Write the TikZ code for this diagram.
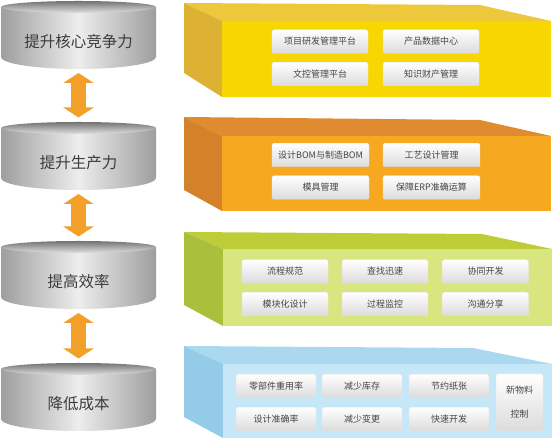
\documentclass[tikz,border=0pt]{standalone}
\usepackage{fontspec}
\setmainfont{Noto Sans CJK SC}
\usetikzlibrary{arrows.meta}
\definecolor{txtgray}{HTML}{3C3C3C}
\definecolor{btngray}{HTML}{454545}
\definecolor{arroworange}{HTML}{F3A02A}
\definecolor{yfront}{HTML}{F8D602}
\definecolor{ytop}{HTML}{ECC83A}
\definecolor{yside}{HTML}{DDB234}
\definecolor{ofront}{HTML}{F6A821}
\definecolor{otop}{HTML}{E08B2F}
\definecolor{oside}{HTML}{D3822A}
\definecolor{gfront}{HTML}{D9E57F}
\definecolor{gtop}{HTML}{BDCC37}
\definecolor{gside}{HTML}{AAC03D}
\definecolor{bfront}{HTML}{C6E7F8}
\definecolor{btop}{HTML}{AAD9EF}
\definecolor{bside}{HTML}{93CBE9}

\begin{document}
\begin{tikzpicture}[%
  x=1pt,y=1pt,
  cylbody/.style={left color=black!38,right color=black!38,middle color=black!7},
  cyltop/.style={top color=black!55,bottom color=black!12},
  cyltext/.style={font=\fontsize{15.5}{18}\selectfont,text=txtgray},
  updown/.style={draw=arroworange,line width=15pt,shorten <=4pt,shorten >=4.5pt,
    {Triangle[width=30pt,length=10pt]}-{Triangle[width=30pt,length=10pt]}},
  btn/.style={rounded corners=2pt,top color=white,bottom color=black!14,draw=black!10,
    font=\fontsize{9}{11}\selectfont,text=btngray,inner sep=0pt,minimum height=23.5pt}]
\useasboundingbox (0,0) rectangle (554,441);

% cylinders
\shade[cylbody] (1,434) -- (1,384) arc[start angle=180,end angle=360,x radius=77.5,y radius=12] -- (156,434) -- cycle;
\shade[cyltop] (78.5,434) ellipse[x radius=77.5,y radius=6];
\node[cyltext] (t1) at (78.5,399) {提升核心竞争力};
\shade[cylbody] (1,313) -- (1,263) arc[start angle=180,end angle=360,x radius=77.5,y radius=12] -- (156,313) -- cycle;
\shade[cyltop] (78.5,313) ellipse[x radius=77.5,y radius=6];
\node[cyltext] (t2) at (78.5,278) {提升生产力};
\shade[cylbody] (1,194) -- (1,144) arc[start angle=180,end angle=360,x radius=77.5,y radius=12] -- (156,194) -- cycle;
\shade[cyltop] (78.5,194) ellipse[x radius=77.5,y radius=6];
\node[cyltext] (t3) at (78.5,159) {提高效率};
\shade[cylbody] (1,72) -- (1,22) arc[start angle=180,end angle=360,x radius=77.5,y radius=12] -- (156,72) -- cycle;
\shade[cyltop] (78.5,72) ellipse[x radius=77.5,y radius=6];
\node[cyltext] (t4) at (78.5,37) {降低成本};

\coordinate (c1b) at (78.5,372);
\coordinate (c2t) at (78.5,319);
\coordinate (c2b) at (78.5,251);
\coordinate (c3t) at (78.5,200);
\coordinate (c3b) at (78.5,132);
\coordinate (c4t) at (78.5,78);
\draw[updown] (c1b) -- (c2t);
\draw[updown] (c2b) -- (c3t);
\draw[updown] (c3b) -- (c4t);

% yellow block
\fill[ytop] (184,438) -- (480,436) -- (551,420) -- (222,420) -- cycle;
\fill[yside] (184,438) -- (222,420) -- (222,344) -- (184,368) -- cycle;
\fill[yfront] (222,344) rectangle (551,420);
\node[btn,minimum width=96pt] (y1) at (320,399.5) {项目研发管理平台};
\node[btn,minimum width=96pt] (y2) at (431,399.5) {产品数据中心};
\node[btn,minimum width=96pt] (y3) at (320,367) {文控管理平台};
\node[btn,minimum width=96pt] (y4) at (431,367) {知识财产管理};

% orange block
\fill[otop] (184,324) -- (480,321) -- (551,305) -- (222,305) -- cycle;
\fill[oside] (184,324) -- (222,305) -- (222,230) -- (184,251) -- cycle;
\fill[ofront] (222,230) rectangle (551,305);
\node[btn,minimum width=97pt] (o1) at (320.5,286) {设计BOM与制造BOM};
\node[btn,minimum width=97pt] (o2) at (431.5,286) {工艺设计管理};
\node[btn,minimum width=97pt] (o3) at (320.5,253.5) {模具管理};
\node[btn,minimum width=97pt] (o4) at (431.5,253.5) {保障ERP准确运算};

% green block
\fill[gtop] (184,209) -- (482,207) -- (552,192) -- (223,192) -- cycle;
\fill[gside] (184,209) -- (223,192) -- (223,115) -- (184,136) -- cycle;
\fill[gfront] (223,115) rectangle (552,192);
\node[btn,minimum width=86pt] (g1) at (285,169.5) {流程规范};
\node[btn,minimum width=86pt] (g2) at (385,169.5) {查找迅速};
\node[btn,minimum width=86pt] (g3) at (485.5,169.5) {协同开发};
\node[btn,minimum width=86pt] (g4) at (285,137) {模块化设计};
\node[btn,minimum width=86pt] (g5) at (385,137) {过程监控};
\node[btn,minimum width=86pt] (g6) at (485.5,137) {沟通分享};

% blue block
\fill[btop] (184,95) -- (473,93) -- (552,77) -- (223,77) -- cycle;
\fill[bside] (184,95) -- (223,77) -- (223,3) -- (184,24) -- cycle;
\fill[bfront] (223,3) rectangle (552,77);
\node[btn,minimum width=80pt] (l1) at (276,55) {零部件重用率};
\node[btn,minimum width=80pt] (l2) at (362,55) {减少库存};
\node[btn,minimum width=80pt] (l3) at (449,55) {节约纸张};
\node[btn,minimum width=80pt] (l4) at (276,22) {设计准确率};
\node[btn,minimum width=80pt] (l5) at (362,22) {减少变更};
\node[btn,minimum width=80pt] (l6) at (449,22) {快速开发};
\node[btn,minimum width=47pt,minimum height=57pt,align=center] (l7) at (519.5,38.5) {新物料\\[13pt]控制};
\end{tikzpicture}
\end{document}
